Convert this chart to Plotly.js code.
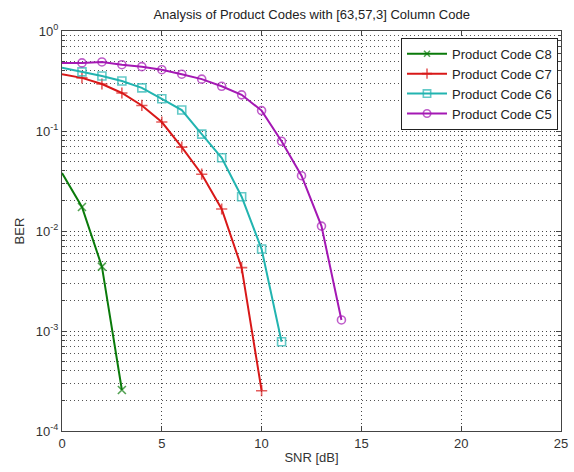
<!DOCTYPE html>
<html><head><meta charset="utf-8">
<script src="https://cdn.plot.ly/plotly-3.0.1.min.js"></script>
<style>body{margin:0;background:#fff}#chart{width:574px;height:472px}</style>
</head><body><div id="chart"></div>
<script>
const snrC8 = [0, 1, 2, 3];
const berC8 = [0.038, 0.0174, 0.0044, 0.000257];
const snrC7 = [0, 1, 2, 3, 4, 5, 6, 7, 8, 9, 10];
const berC7 = [0.37, 0.34, 0.295, 0.24, 0.18, 0.123, 0.069, 0.037, 0.0166, 0.0043, 0.000253];
const snrC6 = [0, 1, 2, 3, 4, 5, 6, 7, 8, 9, 10, 11];
const berC6 = [0.43, 0.39, 0.355, 0.316, 0.27, 0.21, 0.162, 0.093, 0.054, 0.022, 0.0066, 0.00078];
const snrC5 = [0, 1, 2, 3, 4, 5, 6, 7, 8, 9, 10, 11, 12, 13, 14];
const berC5 = [0.48, 0.48, 0.49, 0.46, 0.44, 0.41, 0.37, 0.33, 0.28, 0.23, 0.16, 0.079, 0.0357, 0.0112, 0.00129];
const names = ["Product Code C8", "Product Code C7", "Product Code C6", "Product Code C5"];
const yTickVals = [1e-4, 1e-3, 1e-2, 1e-1, 1];
const yTickText = ["10<sup>-4</sup>", "10<sup>-3</sup>", "10<sup>-2</sup>", "10<sup>-1</sup>", "10<sup>0</sup>"];
const xTickVals = [0, 5, 10, 15, 20, 25];

function tr(x, y, name, color, symbol) {
  return {x: x, y: y, name: name, type: 'scatter', mode: 'lines+markers',
    line: {color: color, width: 2},
    marker: {symbol: symbol, size: x.map(v => v === 0 ? 0 : 8), color: color, line: {color: color, width: 1.6}},
    cliponaxis: true};
}
const data = [
  tr(snrC8, berC8, names[0], '#0a7a0a', 'x-thin-open'),
  tr(snrC7, berC7, names[1], '#d81818', 'cross-thin-open'),
  tr(snrC6, berC6, names[2], '#22b4b0', 'square-open'),
  tr(snrC5, berC5, names[3], '#a418b4', 'circle-open')
];
const gridDash = '1px,3px';
const layout = {
  width: 574, height: 472,
  margin: {l: 62, r: 13, t: 31, b: 41},
  paper_bgcolor: '#fff', plot_bgcolor: '#fff',
  font: {family: 'Liberation Sans, Arial, sans-serif', size: 13, color: '#333'},
  title: {text: 'Analysis of Product Codes with [63,57,3] Column Code', x: 0.543, xanchor: 'center', y: 0.97, yanchor: 'middle', font: {size: 13, color: '#222'}},
  xaxis: {range: [0, 25], tickmode: 'array', tickvals: xTickVals, ticks: 'inside', ticklen: 5,
    showline: true, mirror: 'ticks', linecolor: '#444', linewidth: 1, tickcolor: '#444',
    showgrid: true, gridcolor: '#444', griddash: gridDash, gridwidth: 1, zeroline: false,
    tickfont: {size: 13, color: '#333'},
    title: {text: 'SNR [dB]', standoff: 3, font: {size: 13, color: '#333'}}},
  yaxis: {type: 'log', range: [-4, 0], tickmode: 'array', tickvals: yTickVals, ticktext: yTickText,
    ticks: 'inside', ticklen: 5, showline: true, mirror: 'ticks', linecolor: '#444', linewidth: 1, tickcolor: '#444',
    showgrid: true, gridcolor: '#444', griddash: gridDash, gridwidth: 1, zeroline: false,
    tickfont: {size: 13, color: '#333'},
    minor: {dtick: 'D1', ticks: 'inside', ticklen: 3, tickcolor: '#444', showgrid: true, gridcolor: '#555', griddash: gridDash, gridwidth: 1},
    title: {text: 'BER', standoff: 8, font: {size: 13, color: '#333'}}},
  showlegend: true,
  legend: {x: 0.994, xanchor: 'right', y: 0.983, yanchor: 'top', bgcolor: '#fff', bordercolor: '#222', borderwidth: 1,
    font: {size: 13, color: '#222'}, tracegroupgap: 0, itemwidth: 40}
};
Plotly.newPlot('chart', data, layout, {displayModeBar: false, staticPlot: true});
</script></body></html>
